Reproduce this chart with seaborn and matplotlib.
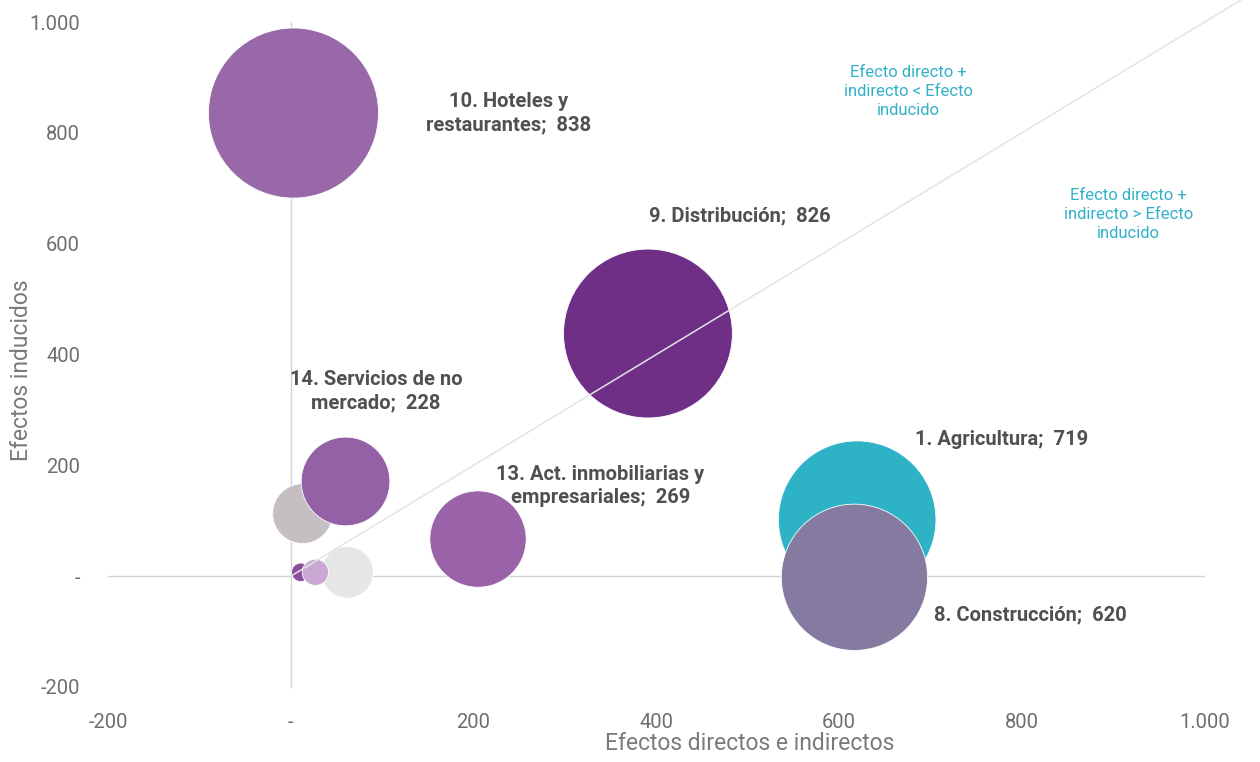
import numpy as np
import pandas as pd
import seaborn as sns
import matplotlib.pyplot as plt
from matplotlib.ticker import FuncFormatter

# Bubble data
sectors = ["s2", "s3", "s4", "s5", "1. Agricultura", "8. Construcción",
           "9. Distribución", "10. Hoteles y\nrestaurantes",
           "13. Act. inmobiliarias y\nempresariales", "14. Servicios de no\nmercado"]
direct_indirect = [13, 62, 11, 27, 620, 617, 391, 3, 205, 60]
induced = [113, 7, 7, 7, 102, -2, 438, 836, 67, 171]
bubble_size = [104, 78, 10, 20, 719, 620, 826, 838, 269, 228]
bubble_colors = ["#c5bec3", "#e6e6e6", "#8c4d9c", "#c9a9d3", "#2db2c6",
                 "#857a9f", "#6f2f87", "#9868a8", "#9a62a9", "#9461a6"]
labelled = [False, False, False, False, True, True, True, True, True, True]

# label offsets relative to each bubble (points)
label_offsets = [None, None, None, None, (104, 58), (127, -27),
                 (66, 85), (155, 0), (88, 38), (22, 65)]

ticks = [-200, 0, 200, 400, 600, 800, 1000]

zone_text_left = "Efecto directo +\nindirecto < Efecto\ninducido"
zone_text_right = "Efecto directo +\nindirecto > Efecto\ninducido"

df = pd.DataFrame({
    "sector": sectors,
    "x": direct_indirect,
    "y": induced,
    "size": bubble_size,
})

sns.set_style("white")
plt.rcParams["font.family"] = ["Roboto", "DejaVu Sans"]

fig = plt.figure(figsize=(12.6, 7.62), dpi=100)
ax = fig.add_axes([108 / 1260, 75 / 762, 1153 / 1260, 687 / 762])

# marker area s = diameter^2 (points), area proportional to value
sns.scatterplot(
    data=df, x="x", y="y", hue="sector", size="size",
    palette=dict(zip(sectors, bubble_colors)),
    sizes=(0, 17.9 * 1000), size_norm=(0, 1000),
    edgecolor="white", linewidth=0.6, alpha=1,
    legend=False, ax=ax, zorder=3,
)

# diagonal y = x
ax.plot([0, 1055], [0, 1055], color="#e4e4e4", lw=1.1, zorder=5,
        solid_capstyle="butt", clip_on=False)

ax.set_xlim(-200, 1062)
ax.set_ylim(-200, 1040)

# axis lines crossing at zero
for side in ["top", "right"]:
    ax.spines[side].set_visible(False)
ax.spines["left"].set_position(("data", 0))
ax.spines["bottom"].set_position(("data", 0))
ax.spines["left"].set_bounds(-200, 1000)
ax.spines["bottom"].set_bounds(-200, 1000)
for side in ["left", "bottom"]:
    ax.spines[side].set_color("#d4d4d4")
    ax.spines[side].set_linewidth(1.0)
    ax.spines[side].set_zorder(1)
ax.set_xticks(ticks)
ax.set_yticks(ticks)
ax.tick_params(axis="both", length=4, width=0.8, color="#d4d4d4",
               labelbottom=False, labelleft=False, direction="out")
ax.set_xlabel("")
ax.set_ylabel("")


def fmt(v, pos=None):
    if v == 0:
        return "-"
    return f"{int(v):,}".replace(",", ".")


# tick labels sit at the plot edges, not on the zero lines
secx = ax.secondary_xaxis("bottom")
secx.set_xticks(ticks)
secx.xaxis.set_major_formatter(FuncFormatter(fmt))
secx.tick_params(length=0, pad=19, labelsize=14.5, labelcolor="#6e6e6e")
secx.spines["bottom"].set_visible(False)

secy = ax.secondary_yaxis("left")
secy.set_yticks(ticks)
secy.yaxis.set_major_formatter(FuncFormatter(fmt))
secy.tick_params(length=0, pad=20, labelsize=14.5, labelcolor="#6e6e6e")
secy.spines["left"].set_visible(False)

fig.text(750 / 1260, 1 - 744 / 762, "Efectos directos e indirectos",
         ha="center", va="center", fontsize=16.5, color="#7a7a7a")
fig.text(22 / 1260, 1 - 370 / 762, "Efectos inducidos", rotation=90,
         ha="center", va="center", fontsize=16.5, color="#7a7a7a")

# bubble labels
for name, x, y, v, show, off in zip(sectors, direct_indirect, induced,
                                   bubble_size, labelled, label_offsets):
    if not show:
        continue
    ax.annotate(f"{name};  {v}", (x, y), xytext=off, textcoords="offset points",
                ha="center", va="center", fontsize=14.5, fontweight="bold",
                color="#505050", linespacing=1.25, zorder=6)

ax.text(0.694, 0.867, zone_text_left, transform=ax.transAxes, ha="center",
        va="center", fontsize=12, color="#33b0c9", linespacing=1.35)
ax.text(0.885, 0.688, zone_text_right, transform=ax.transAxes, ha="center",
        va="center", fontsize=12, color="#33b0c9", linespacing=1.35)

fig.savefig("out.png", dpi=100)
